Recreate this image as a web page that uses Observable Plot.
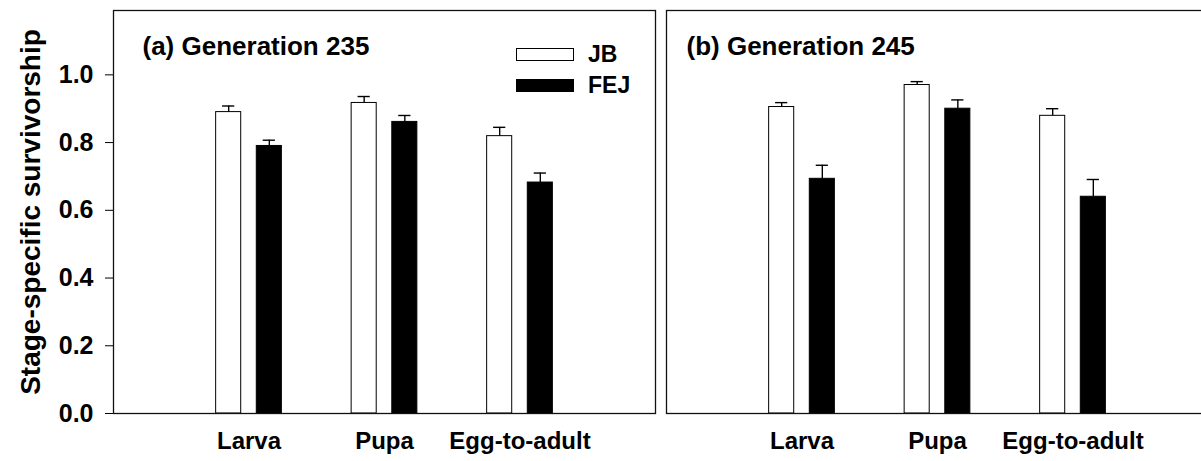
<!DOCTYPE html>
<html><head><meta charset="utf-8">
<script src="https://cdn.jsdelivr.net/npm/d3@7"></script>
<script src="https://cdn.jsdelivr.net/npm/@observablehq/plot@0.6"></script>
<style>
html,body{margin:0;padding:0;background:#fff;overflow:hidden;}
#wrap{position:relative;width:1201px;height:461px;overflow:hidden;}
#legend{position:absolute;left:516px;top:39px;font-family:"Liberation Sans",Arial,Helvetica,sans-serif;font-weight:bold;font-size:23px;color:#000;}
.item{display:flex;align-items:center;height:31px;}
.sw{width:56px;height:11px;border:1px solid #000;margin-right:14px;box-sizing:content-box;}
</style></head>
<body><div id="wrap"><div id="chart"></div><div id="legend"></div></div>
<script>
// ---- data ----
const stages = ["Larva", "Pupa", "Egg-to-adult"];
const strains = ["JB", "FEJ"];
const generations = ["235", "245"];
const panelTitles = ["(a) Generation 235", "(b) Generation 245"];
const jb235 = [0.890, 0.917, 0.819];
const jb235se = [0.018, 0.019, 0.026];
const fej235 = [0.790, 0.861, 0.682];
const fej235se = [0.017, 0.019, 0.028];
const jb245 = [0.905, 0.970, 0.879];
const jb245se = [0.013, 0.010, 0.021];
const fej245 = [0.693, 0.900, 0.640];
const fej245se = [0.040, 0.026, 0.051];
const yTicks = [0, 0.2, 0.4, 0.6, 0.8, 1.0];
const yLabel = "Stage-specific survivorship";

// ---- build table ----
const means = {"235": [jb235, fej235], "245": [jb245, fej245]};
const ses = {"235": [jb235se, fej235se], "245": [jb245se, fej245se]};
const fills = {JB: "#ffffff", FEJ: "#000000"};
const rows = [];
generations.forEach(g => strains.forEach((s, si) => stages.forEach((st, k) => {
  rows.push({gen: g, strain: s, stage: st, pos: k + 1 + (si === 0 ? -0.15 : 0.15),
             value: means[g][si][k], se: ses[g][si][k]});
})));
const titles = generations.map((g, i) => ({gen: g, text: panelTitles[i]}));
const halfBar = 0.0925, halfCap = 0.045;
const font = '"Liberation Sans", Arial, Helvetica, sans-serif';

const chart = Plot.plot({
  width: 1220, height: 461,
  marginLeft: 112, marginRight: 12, marginTop: 10, marginBottom: 48,
  style: {fontFamily: font, maxWidth: "none", background: "white", color: "#000"},
  fx: {domain: generations, axis: null, paddingInner: 0.02, paddingOuter: 0},
  x: {domain: [0, 4], axis: null},
  y: {domain: [0, 1.19], axis: null},
  marks: [
    Plot.rectY(rows, {fx: "gen", x1: d => d.pos - halfBar, x2: d => d.pos + halfBar, y: "value",
      fill: d => fills[d.strain], stroke: "#000", strokeWidth: 1}),
    Plot.ruleX(rows, {fx: "gen", x: "pos", y1: "value", y2: d => d.value + d.se, stroke: "#000", strokeWidth: 1.4}),
    Plot.ruleY(rows, {fx: "gen", y: d => d.value + d.se, x1: d => d.pos - halfCap, x2: d => d.pos + halfCap, stroke: "#000", strokeWidth: 1.4}),
    Plot.frame({stroke: "#111", strokeWidth: 1.3}),
    Plot.axisY({ticks: yTicks, tickFormat: d3.format(".1f"), tickSize: 8, tickPadding: 12,
      fontSize: 25, fontWeight: "bold", label: null, stroke: "#000"}),
    Plot.axisX({ticks: [1, 2, 3], tickFormat: d => stages[d - 1], tickSize: 0, tickPadding: 18,
      fontSize: 24, fontWeight: "bold", label: null}),
    Plot.text([{gen: generations[0], text: yLabel}], {fx: "gen", text: "text", frameAnchor: "left",
      textAnchor: "middle", rotate: -90, dx: -82, fontSize: 28, fontWeight: "bold"}),
    Plot.text(titles.slice(0, 1), {fx: "gen", text: "text", frameAnchor: "top-left", textAnchor: "start",
      lineAnchor: "top", dx: 29, dy: 26, fontSize: 26, fontWeight: "bold"}),
    Plot.text(titles.slice(1), {fx: "gen", text: "text", frameAnchor: "top-left", textAnchor: "start",
      lineAnchor: "top", dx: 20, dy: 26, fontSize: 26, fontWeight: "bold"})
  ]
});
document.getElementById("chart").appendChild(chart);

// legend
const leg = document.getElementById("legend");
strains.forEach(s => {
  const item = document.createElement("div");
  item.className = "item";
  const sw = document.createElement("span");
  sw.className = "sw";
  sw.style.background = fills[s];
  const t = document.createElement("span");
  t.textContent = s;
  item.appendChild(sw); item.appendChild(t);
  leg.appendChild(item);
});
</script>
</body></html>
